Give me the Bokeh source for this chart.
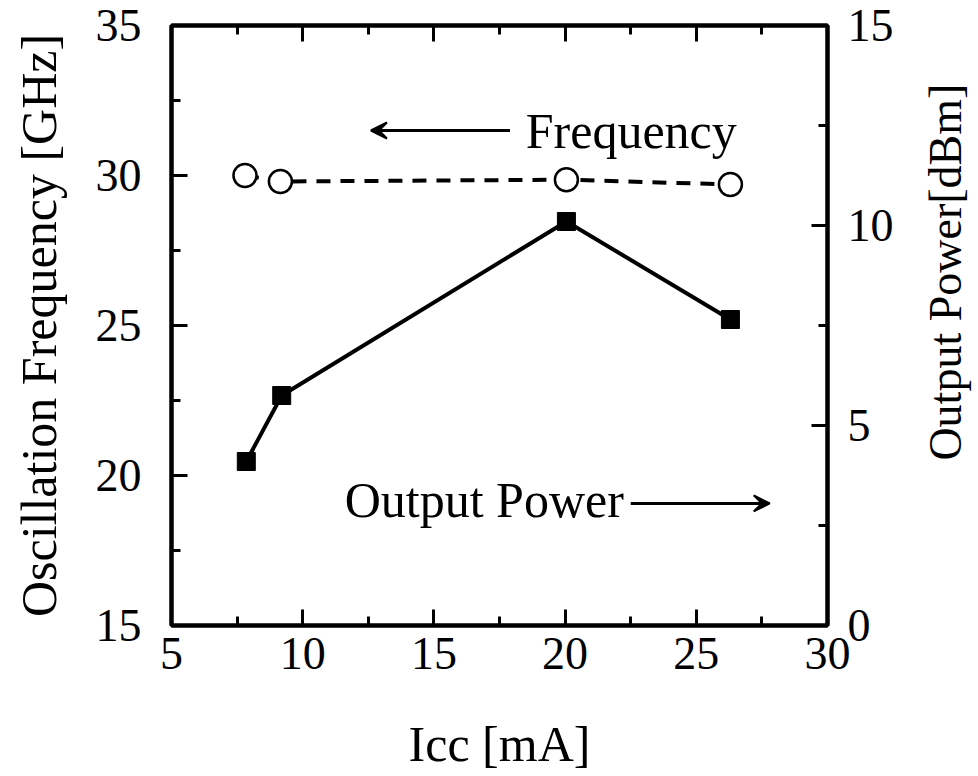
import math
from bokeh.plotting import figure
from bokeh.layouts import row
from bokeh.core.properties import value
from bokeh.models import (Range1d, LinearAxis, SingleIntervalTicker, Arrow, VeeHead, Label)
from bokeh.embed import file_html
from bokeh.resources import INLINE

# Data
icc_freq = [7.8, 9.15, 20.05, 26.3]
freq_ghz = [30.0, 29.8, 29.86, 29.7]
icc_pow = [7.85, 9.2, 20.05, 26.3]
power_dbm = [4.1, 5.75, 10.1, 7.65]

FONT = "Liberation Serif"
TICK_SIZE = "46px"

p = figure(width=918, height=776, output_backend="svg", toolbar_location=None,
           x_range=Range1d(5, 30), y_range=Range1d(15, 35),
           min_border_left=171, min_border_right=91, min_border_top=25, min_border_bottom=151)
p.extra_y_ranges = {"power": Range1d(0, 15)}
p.grid.visible = False
p.outline_line_color = "black"
p.outline_line_width = 4
p.background_fill_color = "white"
p.border_fill_color = "white"

def style_axis(ax, interval, labels=True, label_size="50px"):
    ax.ticker = SingleIntervalTicker(interval=interval, num_minor_ticks=2)
    ax.axis_line_width = 4
    ax.axis_line_color = "black"
    ax.major_tick_in = 16
    ax.major_tick_out = 0
    ax.minor_tick_in = 9
    ax.minor_tick_out = 0
    ax.major_tick_line_width = 3
    ax.minor_tick_line_width = 3
    ax.major_label_text_font = FONT
    ax.major_label_text_font_size = TICK_SIZE if labels else "0px"
    ax.major_label_text_color = "black"
    ax.axis_label_text_font = FONT
    ax.axis_label_text_font_size = label_size
    ax.axis_label_text_font_style = "normal"
    ax.axis_label_text_color = "black"

xa = p.xaxis[0]
style_axis(xa, 5, label_size="50px")
xa.axis_label = "Icc [mA]"
xa.major_label_standoff = 12
xa.axis_label_standoff = 44

ya = p.yaxis[0]
style_axis(ya, 5, label_size="50px")
ya.axis_label = "Oscillation Frequency [GHz]"
ya.major_label_standoff = 30
ya.axis_label_standoff = 26

ra = LinearAxis(y_range_name="power")
style_axis(ra, 5)
ra.major_label_standoff = 20
p.add_layout(ra, "right")

ta = LinearAxis()
style_axis(ta, 5, labels=False)
ta.major_label_standoff = 0
p.add_layout(ta, "above")

# Frequency (dashed, open circles)
p.line(icc_freq, freq_ghz, line_color="black", line_width=4, line_dash="14 10")
p.scatter(icc_freq, freq_ghz, marker="circle", size=23, fill_color="white",
          line_color="black", line_width=2.5)

# Output power (solid, filled squares)
p.line(icc_pow, power_dbm, line_color="black", line_width=4, y_range_name="power")
p.scatter(icc_pow, power_dbm, marker="square", size=18, fill_color="black",
          line_color="black", y_range_name="power")

# Annotations
p.add_layout(Arrow(end=VeeHead(size=16, fill_color="black", line_color="black", line_width=2),
                   x_start=17.9, y_start=31.5, x_end=12.6, y_end=31.5,
                   line_width=3, line_color="black"))
p.add_layout(Label(x=18.5, y=31.5, text="Frequency", text_font=FONT,
                   text_font_size="50px", text_baseline="middle", text_color="black"))
p.add_layout(Label(x=11.6, y=19.2, text="Output Power", text_font=FONT,
                   text_font_size="50px", text_baseline="middle", text_color="black"))
p.add_layout(Arrow(end=VeeHead(size=16, fill_color="black", line_color="black", line_width=2),
                   x_start=22.5, y_start=19.07, x_end=27.8, y_end=19.07,
                   line_width=3, line_color="black"))

# Right-hand axis title (reads bottom-to-top), drawn in a narrow companion panel
p2 = figure(width=60, height=776, output_backend="svg", toolbar_location=None,
            x_range=Range1d(0, 60), y_range=Range1d(0, 776),
            min_border_left=0, min_border_right=0, min_border_top=0, min_border_bottom=0)
p2.axis.visible = False
p2.grid.visible = False
p2.outline_line_color = None
p2.background_fill_color = "white"
p2.border_fill_color = "white"
p2.text(x=[27], y=[457], text=["Output Power[dBm]"], angle=math.pi / 2,
        text_font=value(FONT), text_font_size=value("46px"),
        text_align="center", text_baseline="middle", text_color="black")

layout = row(p, p2, spacing=0)
open("out.html", "w").write(file_html(layout, INLINE))
